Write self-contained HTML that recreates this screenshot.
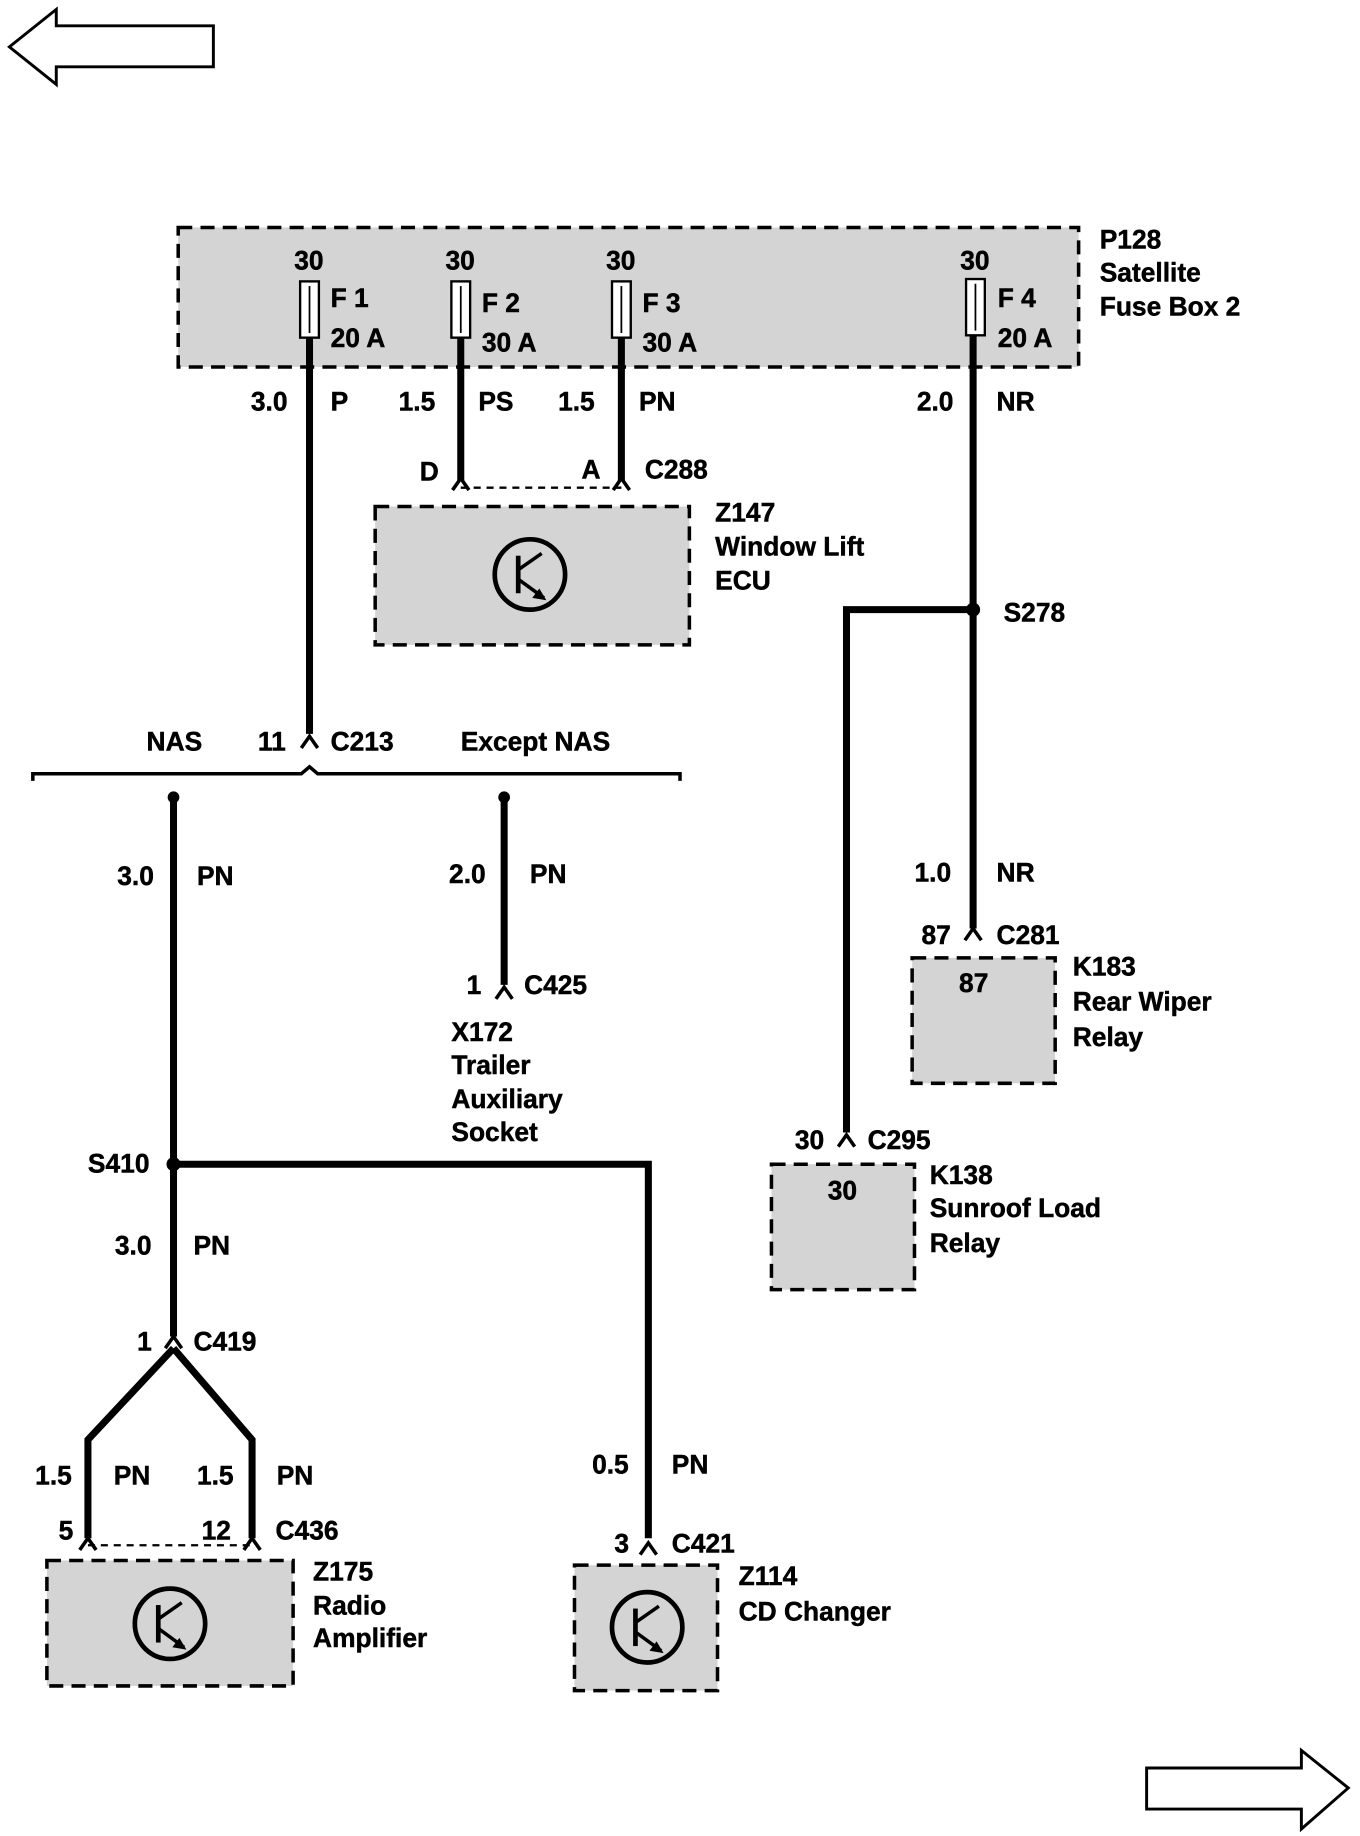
<!DOCTYPE html>
<html><head><meta charset="utf-8"><style>
html,body{margin:0;padding:0;background:#fff}
svg{display:block}
text{font-family:"Liberation Sans",sans-serif;font-weight:bold;font-size:22.5px;fill:#000;stroke:#000;stroke-width:0.4}
</style></head><body>
<svg width="1360" height="1836" viewBox="0 0 1160 1566" xmlns="http://www.w3.org/2000/svg">
<defs>
<g id="tr"><circle cx="0" cy="0" r="30" fill="none" stroke="#000" stroke-width="4"/>
<line x1="-10" y1="-16" x2="-10" y2="16" stroke="#000" stroke-width="4"/>
<line x1="-10" y1="-4" x2="10" y2="-18" stroke="#000" stroke-width="3"/>
<line x1="-10" y1="4" x2="12" y2="20" stroke="#000" stroke-width="3"/>
<polygon points="14,22 2,20 8,12" fill="#000"/></g>
</defs>
<polygon points="8,40 48,8 48,22 182,22 182,57 48,57 48,72" fill="#fff" stroke="#000" stroke-width="2.5"/>
<polygon points="1150,1525 1110,1493 1110,1508 978,1508 978,1543 1110,1543 1110,1560" fill="#fff" stroke="#000" stroke-width="2.5"/>
<g fill="#d4d4d4" stroke="#000" stroke-width="3" stroke-dasharray="12,7">
<rect x="152" y="194" width="768" height="119"/>
<rect x="320" y="432" width="268" height="118"/>
<rect x="778" y="817" width="122" height="107"/>
<rect x="658" y="993" width="122" height="107"/>
<rect x="40" y="1331" width="210" height="107"/>
<rect x="490" y="1335" width="122" height="107"/>
</g>
<g fill="#fff" stroke="#000" stroke-width="2">
<rect x="256" y="240" width="16" height="48"/><rect x="385" y="240" width="16" height="48"/>
<rect x="522" y="240" width="16" height="48"/><rect x="824" y="238" width="16" height="48"/>
</g>
<g stroke="#000" stroke-width="1.5"><line x1="264" y1="244" x2="264" y2="284"/><line x1="393" y1="244" x2="393" y2="284"/><line x1="530" y1="244" x2="530" y2="284"/><line x1="832" y1="242" x2="832" y2="282"/></g>
<g stroke="#000" stroke-width="6" fill="none">
<line x1="264" y1="288" x2="264" y2="626"/>
<line x1="393" y1="288" x2="393" y2="410"/>
<line x1="530" y1="288" x2="530" y2="410"/>
<polyline points="830,286 830,520 830,792"/>
<polyline points="830,520 722,520 722,966"/>
<polyline points="148,680 148,1140"/>
<line x1="430" y1="680" x2="430" y2="840"/>
<polyline points="148,993 553,993 553,1312"/>
<polyline points="148,1150 75,1228 75,1312"/>
<polyline points="148,1150 215,1228 215,1312"/>
</g>
<circle cx="830" cy="520" r="6"/><circle cx="148" cy="993" r="6"/>
<circle cx="148" cy="680" r="5"/><circle cx="430" cy="680" r="5"/>
<g stroke="#000" stroke-width="3" fill="none">
<polyline points="141,1150 148,1140 155,1150"/>
<polyline points="386,418 393,408 400,418"/><polyline points="523,418 530,408 537,418"/>
<line x1="393" y1="416" x2="530" y2="416" stroke-dasharray="6,5" stroke-width="2"/>
<polyline points="257,638 264,628 271,638"/>
<polyline points="823,802 830,792 837,802"/><polyline points="715,978 722,968 729,978"/>
<polyline points="423,852 430,842 437,852"/>
<polyline points="546,1326 553,1316 560,1326"/>
<polyline points="68,1322 75,1312 82,1322"/><polyline points="208,1322 215,1312 222,1322"/>
<line x1="75" y1="1318" x2="215" y2="1318" stroke-dasharray="6,5" stroke-width="2"/>
<polyline points="28,666 28,660 257,660 264,654 271,660 580,660 580,666"/>
</g>
<use href="#tr" x="452" y="490"/><use href="#tr" x="145" y="1385"/><use href="#tr" x="552" y="1388"/>
<text x="251" y="230">30</text><text x="380" y="230">30</text><text x="517" y="230">30</text><text x="819" y="230">30</text>
<text x="282" y="262">F 1</text><text x="282" y="296">20 A</text>
<text x="411" y="266">F 2</text><text x="411" y="300">30 A</text>
<text x="548" y="266">F 3</text><text x="548" y="300">30 A</text>
<text x="851" y="262">F 4</text><text x="851" y="296">20 A</text>
<text x="938" y="212">P128</text><text x="938" y="240">Satellite</text><text x="938" y="269">Fuse Box 2</text>
<text x="214" y="350">3.0</text><text x="282" y="350">P</text><text x="340" y="350">1.5</text><text x="408" y="350">PS</text>
<text x="476" y="350">1.5</text><text x="545" y="350">PN</text><text x="782" y="350">2.0</text><text x="850" y="350">NR</text>
<text x="358" y="410">D</text><text x="496" y="408">A</text><text x="550" y="408">C288</text>
<text x="610" y="445">Z147</text><text x="610" y="474">Window Lift</text><text x="610" y="503">ECU</text>
<text x="856" y="530">S278</text>
<text x="125" y="640">NAS</text><text x="220" y="640">11</text><text x="282" y="640">C213</text><text x="393" y="640">Except NAS</text>
<text x="100" y="755">3.0</text><text x="168" y="755">PN</text><text x="383" y="753">2.0</text><text x="452" y="753">PN</text>
<text x="780" y="752">1.0</text><text x="850" y="752">NR</text>
<text x="786" y="805">87</text><text x="850" y="805">C281</text><text x="818" y="846">87</text>
<text x="915" y="832">K183</text><text x="915" y="862">Rear Wiper</text><text x="915" y="892">Relay</text>
<text x="398" y="848">1</text><text x="447" y="848">C425</text>
<text x="385" y="888">X172</text><text x="385" y="916">Trailer</text><text x="385" y="945">Auxiliary</text><text x="385" y="973">Socket</text>
<text x="678" y="980">30</text><text x="740" y="980">C295</text><text x="706" y="1023">30</text>
<text x="793" y="1010">K138</text><text x="793" y="1038">Sunroof Load</text><text x="793" y="1068">Relay</text>
<text x="75" y="1000">S410</text><text x="98" y="1070">3.0</text><text x="165" y="1070">PN</text>
<text x="117" y="1152">1</text><text x="165" y="1152">C419</text>
<text x="30" y="1266">1.5</text><text x="97" y="1266">PN</text><text x="168" y="1266">1.5</text><text x="236" y="1266">PN</text>
<text x="505" y="1257">0.5</text><text x="573" y="1257">PN</text>
<text x="50" y="1313">5</text><text x="172" y="1313">12</text><text x="235" y="1313">C436</text>
<text x="524" y="1324">3</text><text x="573" y="1324">C421</text>
<text x="267" y="1348">Z175</text><text x="267" y="1377">Radio</text><text x="267" y="1405">Amplifier</text>
<text x="630" y="1352">Z114</text><text x="630" y="1382">CD Changer</text>
</svg>
</body></html>
